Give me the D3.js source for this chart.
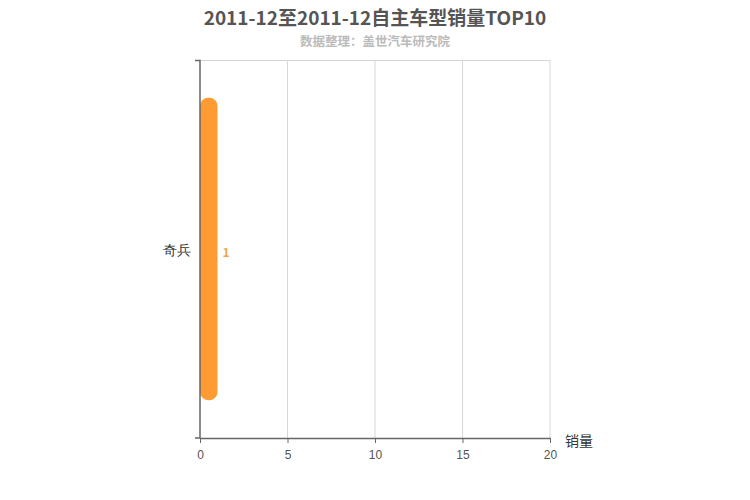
<!DOCTYPE html>
<html>
<head>
<meta charset="utf-8">
<script src="https://cdn.jsdelivr.net/npm/d3@7"></script>
<style>
  body { margin: 0; background: #fff; }
  svg { font-family: "Noto Sans CJK SC", "Noto Sans", sans-serif; }
</style>
</head>
<body>
<svg id="chart" width="750" height="500"></svg>
<script>
// data
var models = ["奇兵"]
var sales = [1]
var xTicks = [0, 5, 10, 15, 20]
var titleText = "2011-12至2011-12自主车型销量TOP10"
var subText = "数据整理：盖世汽车研究院"

var svg = d3.select("#chart")
var margin = {top: 60, right: 200, bottom: 62, left: 200}
var width = 750 - margin.left - margin.right
var height = 500 - margin.top - margin.bottom

svg.append("text")
  .attr("x", 375).attr("y", 25)
  .attr("text-anchor", "middle")
  .style("font-size", "19px").style("font-weight", "bold")
  .style("fill", "#555")
  .text(titleText)

svg.append("text")
  .attr("x", 375).attr("y", 46)
  .attr("text-anchor", "middle")
  .style("font-size", "12.5px").style("font-weight", "bold")
  .style("fill", "#bbb")
  .text(subText)

var g = svg.append("g").attr("transform", "translate(" + margin.left + "," + margin.top + ")")

var x = d3.scaleLinear().domain([0, 20]).range([0, width])
var y = d3.scaleBand().domain(models).range([height, 0]).paddingInner(0.2).paddingOuter(0.097)

// grid + frame
g.selectAll(".grid")
  .data(xTicks.slice(1))
  .enter().append("line")
  .attr("class", "grid")
  .attr("x1", d => x(d)).attr("x2", d => x(d))
  .attr("y1", 0).attr("y2", height)
  .style("stroke", "#d6d6d6")
g.append("line")
  .attr("x1", 0).attr("x2", width).attr("y1", 0.5).attr("y2", 0.5)
  .style("stroke", "#d6d6d6")

// bars, rounded all round
g.selectAll(".bar")
  .data(models)
  .enter().append("rect")
  .attr("class", "bar")
  .attr("x", 0)
  .attr("y", d => y(d))
  .attr("width", (d, i) => x(sales[i]) - x(0))
  .attr("height", y.bandwidth())
  .attr("rx", 8).attr("ry", 8)
  .style("fill", "#fe9c33")

g.selectAll(".val")
  .data(models)
  .enter().append("text")
  .attr("class", "val")
  .attr("x", (d, i) => x(sales[i]) + 5)
  .attr("y", d => y(d) + y.bandwidth() / 2 + 4)
  .attr("dy", "0.35em")
  .style("font-size", "12px").style("font-weight", "bold")
  .style("fill", "#f5a54a")
  .text((d, i) => sales[i])

// axes
var xAxis = g.append("g")
  .attr("transform", "translate(0," + height + ")")
  .call(d3.axisBottom(x).tickValues(xTicks).tickSize(5).tickSizeOuter(0))
xAxis.select(".domain").style("stroke", "#666").style("stroke-width", 1.5)
xAxis.selectAll(".tick line").style("stroke", "#666")
xAxis.selectAll(".tick text").style("font-size", "12px").style("fill", "#555").attr("dy", "1.1em")

var yAxis = g.append("g")
  .call(d3.axisLeft(y).tickSize(0).tickPadding(9))
yAxis.select(".domain").remove()
yAxis.selectAll(".tick text").style("font-size", "13.5px").style("fill", "#333").attr("dy", "0.45em")
g.append("path")
  .attr("d", "M-5,0.5H0V" + height + "H-5")
  .style("fill", "none").style("stroke", "#666").style("stroke-width", 1.5)

g.append("text")
  .attr("x", width + 15).attr("y", height + 8)
  .style("font-size", "14px").style("fill", "#333")
  .text("销量")
</script>
</body>
</html>
